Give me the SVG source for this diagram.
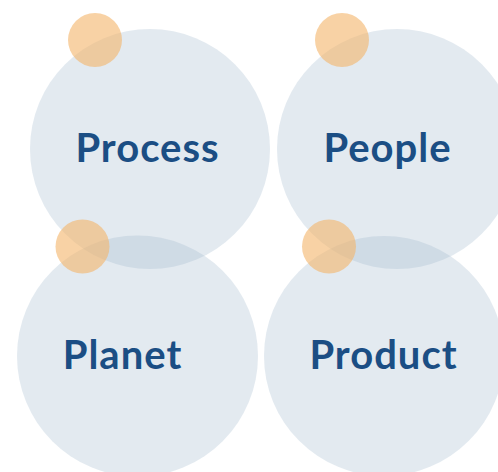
<svg xmlns="http://www.w3.org/2000/svg" width="498" height="472" viewBox="0 0 498 472">
  <style>
    .big { fill: #9DB6CB; fill-opacity: 0.29; }
    .dot { fill: #F4B469; fill-opacity: 0.6; }
    .lbl { font-family: "Lato", "Open Sans", "Liberation Sans", sans-serif; font-weight: 700; font-size: 40px; letter-spacing: 1px; fill: #1B4E84; text-anchor: middle; }
  </style>
  <rect width="498" height="472" fill="#FFFFFF"/>
  <g id="connectors"></g>
  <g id="process">
    <circle class="big" cx="150" cy="149" r="120"/>
  </g>
  <g id="people">
    <circle class="big" cx="397" cy="149" r="120"/>
  </g>
  <g id="planet">
    <circle class="big" cx="137.5" cy="356" r="120.5"/>
  </g>
  <g id="product">
    <circle class="big" cx="384" cy="356" r="120"/>
  </g>
  <g id="process-dot"><circle class="dot" cx="95" cy="40" r="27"/></g>
  <g id="people-dot"><circle class="dot" cx="342" cy="40" r="27"/></g>
  <g id="planet-dot"><circle class="dot" cx="82.5" cy="246.5" r="27"/></g>
  <g id="product-dot"><circle class="dot" cx="329" cy="246.5" r="27"/></g>
  <g id="labels">
    <text class="lbl" x="147.5" y="162">Process</text>
    <text class="lbl" x="387.5" y="162">People</text>
    <text class="lbl" x="122.5" y="369">Planet</text>
    <text class="lbl" x="383.5" y="369">Product</text>
  </g>
</svg>
